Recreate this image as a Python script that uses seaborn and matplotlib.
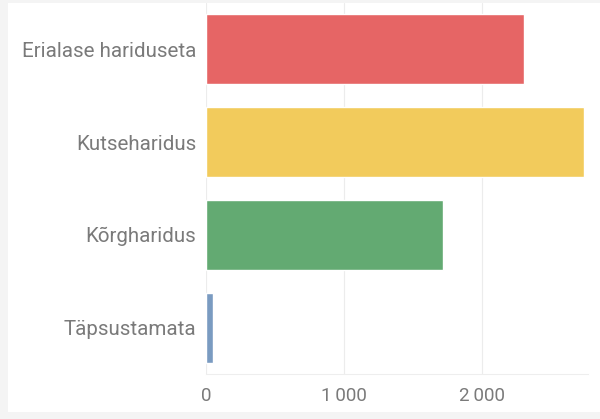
import pandas as pd
import seaborn as sns
import matplotlib.pyplot as plt
from matplotlib.patches import Rectangle
from matplotlib.ticker import FuncFormatter

# values
categories = ["Erialase hariduseta", "Kutseharidus", "Kõrgharidus", "Täpsustamata"]
values = [2302, 2741, 1714, 48]
colors = ["#e66565", "#f2cb5c", "#63aa72", "#7a9bc1"]

df = pd.DataFrame({"haridus": categories, "arv": values})

sns.set_theme(style="white")
plt.rcParams["font.family"] = ["Roboto", "DejaVu Sans"]

fig = plt.figure(figsize=(6, 4.19), dpi=100, facecolor="#f4f4f4")
# white panel behind the chart
fig.patches.append(Rectangle((8 / 600, 7 / 419), 592 / 600, 409 / 419,
                             transform=fig.transFigure, facecolor="white",
                             edgecolor="none", zorder=-10))

ax = fig.add_axes([206 / 600, 45 / 419, 382 / 600, 371 / 419])
ax.set_zorder(1)
ax.set_facecolor("none")
sns.barplot(data=df, x="arv", y="haridus", hue="haridus", palette=colors,
            width=0.755, legend=False, ax=ax, saturation=1)

ax.set_xlim(0, 2768)
ax.set_xticks([0, 1000, 2000])
ax.xaxis.set_major_formatter(FuncFormatter(lambda v, p: f"{int(v):,}".replace(",", "\u2009")))
ax.grid(axis="x", color="#ececec", linewidth=0.8)
ax.set_axisbelow(True)

for s in ["top", "right", "left"]:
    ax.spines[s].set_visible(False)
ax.spines["bottom"].set_color("#eeeeee")
ax.spines["bottom"].set_linewidth(0.8)

ax.set_xlabel("")
ax.set_ylabel("")
ax.tick_params(axis="both", length=0, labelcolor="#7a7a7a")
ax.tick_params(axis="y", pad=7, labelsize=14.8)
ax.tick_params(axis="x", pad=9, labelsize=13.5)

fig.savefig("out.png", dpi=100, facecolor=fig.get_facecolor())
